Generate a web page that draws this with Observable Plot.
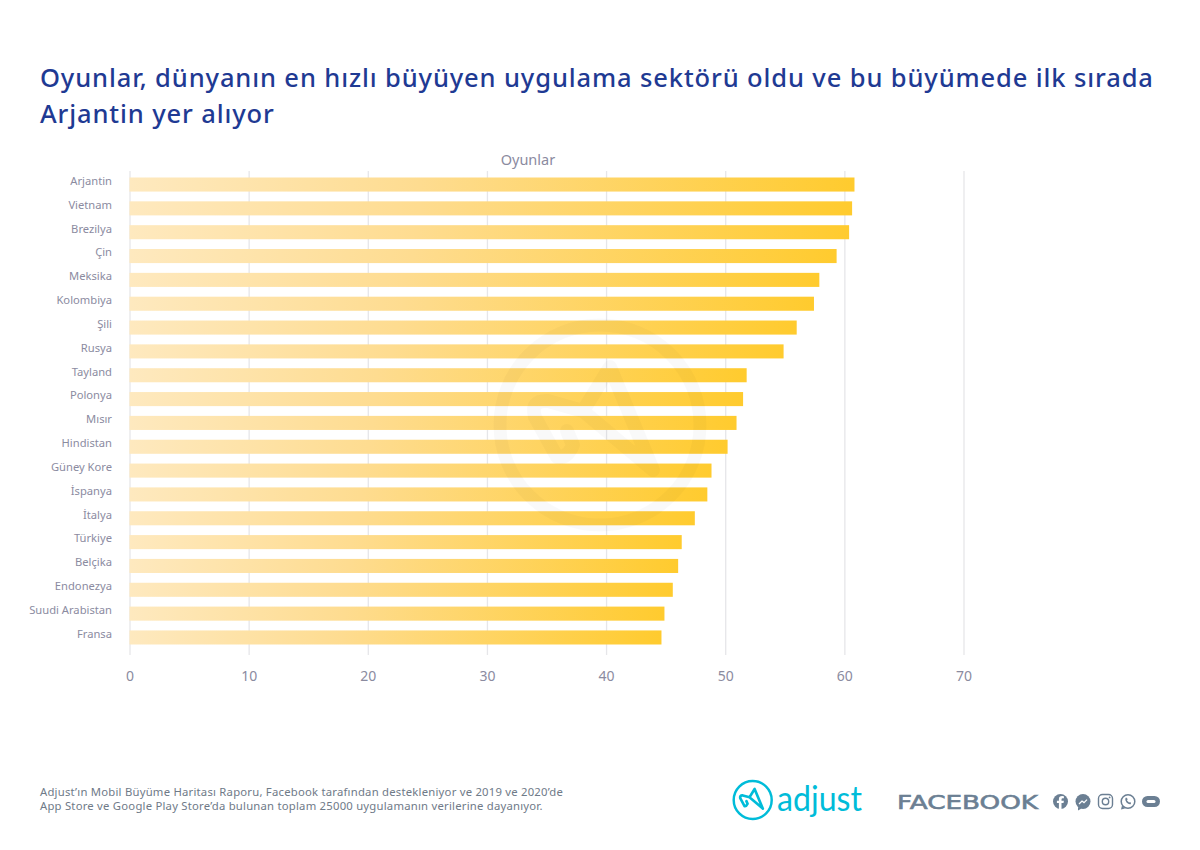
<!DOCTYPE html>
<html lang="tr">
<head>
<meta charset="utf-8">
<script src="https://cdn.jsdelivr.net/npm/d3@7"></script>
<script src="https://cdn.jsdelivr.net/npm/@observablehq/plot@0.6"></script>
<style>
  html, body { margin: 0; padding: 0; background: #fff; }
  body { position: relative; width: 1200px; height: 850px; overflow: hidden; font-family: "Noto Sans", sans-serif; }
  #title { position: absolute; left: 40px; top: 59px; width: 1140px; font-size: 25.5px; line-height: 36px; font-weight: 500; color: #1f3a93; letter-spacing: .88px; white-space: nowrap; }
  #chart { position: absolute; left: 0; top: 140px; }
  #note { position: absolute; left: 40px; top: 785px; font-size: 11.3px; line-height: 14px; color: #6f7a88; letter-spacing: .22px; white-space: nowrap; }
  #brand { position: absolute; left: 0; top: 0; pointer-events: none; }
</style>
</head>
<body>
<div id="title">Oyunlar, dünyanın en hızlı büyüyen uygulama sektörü oldu ve bu büyümede ilk sırada<br>Arjantin yer alıyor</div>
<div id="chart"></div>
<div id="note">Adjust’ın Mobil Büyüme Haritası Raporu, Facebook tarafından destekleniyor ve 2019 ve 2020’de<br>App Store ve Google Play Store’da bulunan toplam 25000 uygulamanın verilerine dayanıyor.</div>

<svg id="brand" width="1200" height="850" xmlns="http://www.w3.org/2000/svg">
  <defs>
    <g id="mark" fill="none" stroke-linejoin="round" stroke-linecap="round">
      <circle cx="0" cy="0" r="100" stroke-width="13"/>
      <path stroke-width="14" d="M53 45 L10 -58 L-17 -14 L53 45 M-17 -14 L-52 -24 Q-70 -25 -65 -8 L-43 32 Q-33 34 -27 20 L-33 6"/>
    </g>
  </defs>
  <use href="#mark" transform="translate(600 425)" stroke="#000" stroke-opacity=".022"/>
  <use href="#mark" transform="translate(752.7 800) scale(.19)" stroke="#00bcd9"/>
  <text x="777" y="810.500" font-family="Lato, sans-serif" font-size="34" font-weight="400" fill="#00bcd9" textLength="85" lengthAdjust="spacingAndGlyphs">adjust</text>
  <text x="897" y="808.500" font-family="'DejaVu Sans', sans-serif" font-size="19.500" font-weight="400" fill="#6b7f93" stroke="#6b7f93" stroke-width=".6" textLength="141" lengthAdjust="spacingAndGlyphs">FACEBOOK</text>
  <g fill="#6b7f93">
    <circle cx="1060.5" cy="801.5" r="7.5"/>
    <path fill="#fff" d="M1061.5 809 v-6 h2 l.4-2.3 h-2.4 v-1.3 q0-1.1 1.2-1.1 h1.2 v-2 q-4.9-.9-5 2.7 v1.7 h-2 v2.3 h2 v6 z"/>
    <circle cx="1083" cy="801.5" r="7.5"/>
    <path d="M1078 807 l0 3.5 l3.5-2 z"/>
    <path fill="none" stroke="#fff" stroke-width="1.3" d="M1079 804 l3-3 l2 1.6 l3-3"/>
    <rect x="1098.5" y="794.5" width="14" height="14" rx="4" fill="none" stroke="#6b7f93" stroke-width="1.4"/>
    <circle cx="1105.5" cy="801.5" r="3.2" fill="none" stroke="#6b7f93" stroke-width="1.4"/>
    <circle cx="1109.6" cy="797.4" r=".9"/>
    <circle cx="1128" cy="801.5" r="6.8" fill="none" stroke="#6b7f93" stroke-width="1.5"/>
    <path d="M1121 809.5 l1-4 l3 3 z"/>
    <path d="M1125.5 798 q-1 2 1 4.5 q2.5 2.500 4.500 1.500 l-.5-2 l-1.500.5 l-2-2 l.7-1.500 l-1.500-1.500 z"/>
    <rect x="1142" y="796" width="18" height="11" rx="5.500"/>
    <rect x="1146.500" y="800" width="9" height="3" rx="1.500" fill="#fff"/>
  </g>
</svg>

<script>
const countries = ["Arjantin","Vietnam","Brezilya","Çin","Meksika","Kolombiya","Şili","Rusya","Tayland","Polonya","Mısır","Hindistan","Güney Kore","İspanya","İtalya","Türkiye","Belçika","Endonezya","Suudi Arabistan","Fransa"];
const values = [60.85,60.65,60.4,59.35,57.9,57.45,56.0,54.9,51.8,51.5,50.95,50.2,48.85,48.5,47.45,46.35,46.05,45.6,44.9,44.65];
const xTicks = [0,10,20,30,40,50,60,70];
const seriesName = ["Oyunlar"];
const rows = countries.map((c, i) => ({country: c, value: values[i]}));

const gradientDefs = () => {
  const ns = "http://www.w3.org/2000/svg";
  const defs = document.createElementNS(ns, "defs");
  const g = document.createElementNS(ns, "linearGradient");
  g.setAttribute("id", "barFill");
  [["0%","#fee9bf"],["40%","#fedc90"],["100%","#ffcb2e"]].forEach(([o, c]) => {
    const s = document.createElementNS(ns, "stop");
    s.setAttribute("offset", o);
    s.setAttribute("stop-color", c);
    g.appendChild(s);
  });
  defs.appendChild(g);
  return defs;
};

const chart = Plot.plot({
  width: 1200,
  height: 560,
  marginTop: 31,
  marginBottom: 45,
  marginLeft: 129.5,
  marginRight: 236.5,
  style: {background: "transparent", fontFamily: "'Noto Sans', sans-serif"},
  x: {domain: [0, 70], ticks: xTicks},
  y: {domain: countries, range: [37.5, 504.5], paddingInner: 0.41, paddingOuter: 0, round: false},
  marks: [
    gradientDefs,
    Plot.ruleX(xTicks, {stroke: "#e6e6e9", strokeWidth: 1.3}),
    Plot.barX(rows, {x: "value", y: "country", fill: "url(#barFill)"}),
    Plot.axisY({tickSize: 0, tickPadding: 18, dy: -3.8, fontSize: 11.2, color: "#8b8b9f", label: null}),
    Plot.axisX({ticks: xTicks, tickSize: 0, tickPadding: 16, fontSize: 14, color: "#8b8b9f", label: null}),
    Plot.text(seriesName, {x: [33.4], frameAnchor: "top", dy: -17, fontSize: 14.5, fill: "#8b8b9f", text: d => d})
  ]
});
document.getElementById("chart").appendChild(chart);
</script>
</body>
</html>
